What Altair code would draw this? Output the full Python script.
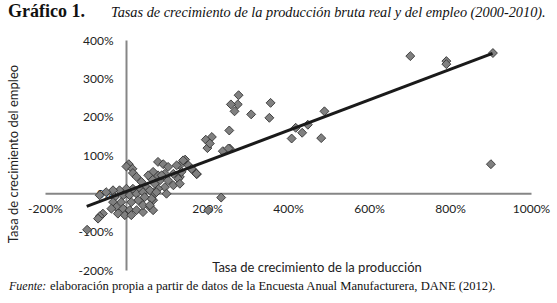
import altair as alt
import pandas as pd

# Growth rates (%)
prod_growth = [702, 791, 791, 906, 901,
               490, 482, 449, 435, 419, 409,
               357, 354, 309, 278, 276, 259, 268, 255, 256, 239, 253,
               212, 197, 201, 207, 235, 203,
               146, 154, 166, 175, 133, 133, 141, 162, 137, 174,
               79, 92, 104, 125, 117, 96, 79, 67, 63, 84, 104, 129, 117, 96, 79, 100, 71, 67, 59, 133,
               7, 1, 16, 17, 26, 38, 55, 71, 50, 34, 17, 1, -16, -32, -49, -65, -28, -7, 9, 26, 42, 59, 75,
               63, 46, 30, 13, -12, -32, -24, -7, 9, 26, 42, 67, 42, 59, -36, -57, -65, -69, -20, -3, 13, 88,
               -96]
emp_growth = [358, 345, 337, 366, 76,
              214, 144, 179, 158, 171, 143,
              236, 197, 206, 256, 232, 232, 214, 164, 117, 110, 117,
              147, 140, 118, 130, -11, -44,
              88, 73, 60, 50, 43, 73, 86, 64, 56, 51,
              82, 76, 69, 73, 51, 51, 47, 56, 38, 34, 34, 38, 21, 16, 12, -1, -1, -18, -36, 25,
              76, 70, 64, 53, 43, 30, 47, 25, 16, 12, 12, 12, 8, 8, 3, -5, -10, -5, -5, -1, 3, 8, 3,
              -14, -10, -18, -23, -23, -23, -36, -40, -44, -44, -49, -44, -31, -31, -40, -53, -60, -66, -53, -57, -57, 47,
              -95]

# Linear trend line endpoints
trend_x = [-97, 905]
trend_y = [-34, 365]

x_ticks = [-200, 200, 400, 600, 800, 1000]
y_ticks = [-200, -100, 0, 100, 200, 300, 400]

title_bold = "Gráfico 1."
title_italic = "Tasas de crecimiento de la producción bruta real y del empleo (2000-2010)."
x_title = "Tasa de crecimiento de la producción"
y_title = "Tasa de crecimiento del empleo"
source_italic = "Fuente:"
source_text = "elaboración propia a partir de datos de la Encuesta Anual Manufacturera, DANE (2012)."

pts = pd.DataFrame({"prod": prod_growth, "emp": emp_growth})
trend = pd.DataFrame({"prod": trend_x, "emp": trend_y})

W, H = 486, 230
label_font = "Lato"
axis_color = "#868686"

x_scale = alt.Scale(domain=[-200, 1000], nice=False, zero=False)
y_scale = alt.Scale(domain=[-200, 400], nice=False, zero=False)


def x_axis():
    return alt.Axis(values=x_ticks, labelExpr="datum.value + '%'", title=None, grid=False,
                    ticks=False, tickSize=0, domainColor=axis_color, domainWidth=2,
                    labelFont=label_font, labelFontSize=12, labelColor="#222222",
                    labelPadding=10, offset=-(H * 200 / 600), labelFlush=False,
                    labelOverlap=False, labelBound=False)


def y_axis():
    return alt.Axis(values=y_ticks, labelExpr="datum.value + '%'", title=None, grid=False,
                    ticks=False, tickSize=0, domainColor=axis_color, domainWidth=2,
                    labelFont=label_font, labelFontSize=12, labelColor="#222222",
                    labelPadding=13, offset=-(W * 200 / 1200), labelFlush=False,
                    labelOverlap=False, labelBound=False)


points = alt.Chart(pts).mark_point(shape="diamond", filled=True, size=80, fill="#808080",
                                   stroke="#333333", strokeWidth=0.9, opacity=1).encode(
    x=alt.X("prod:Q", scale=x_scale, axis=x_axis()),
    y=alt.Y("emp:Q", scale=y_scale, axis=y_axis()),
)

line = alt.Chart(trend).mark_line(color="#1a1a1a", strokeWidth=3).encode(
    x=alt.X("prod:Q", scale=x_scale, axis=x_axis()),
    y=alt.Y("emp:Q", scale=y_scale, axis=y_axis()),
)

one = pd.DataFrame({"a": [0]})
PL, PT = 45, 40  # plot origin on the page


def txt(s, px, py, **kw):
    return alt.Chart(one).mark_text(**kw).encode(
        x=alt.value(px - PL), y=alt.value(py - PT), text=alt.value(s))


t1 = txt(title_bold, 8, 17, align="left", baseline="alphabetic", font="Liberation Serif",
         fontSize=18, fontWeight="bold", color="#111111")
t2 = txt(title_italic, 111, 17, align="left", baseline="alphabetic", font="Liberation Serif",
         fontSize=14.3, fontStyle="italic", color="#111111")
xt = txt(x_title, 317, 268, align="center", baseline="middle", font=label_font,
         fontSize=13, color="#222222")
yt = txt(y_title, 14, 154, align="center", baseline="middle", font=label_font,
         fontSize=13, color="#222222", angle=270)
f1 = txt(source_italic, 9, 290, align="left", baseline="alphabetic", font="Liberation Serif",
         fontSize=12, fontStyle="italic", color="#111111")
f2 = txt(source_text, 50, 290, align="left", baseline="alphabetic", font="Liberation Serif",
         fontSize=12.6, color="#111111")

chart = alt.layer(points, line, t1, t2, xt, yt, f1, f2).properties(
    width=W, height=H,
    padding={"left": PL, "top": PT, "right": 557 - PL - W, "bottom": 303 - PT - H},
    autosize=alt.AutoSizeParams(type="none"),
    background="white",
).configure_view(stroke=None)

chart.save("out.html", embed_options={"renderer": "svg", "actions": False})
